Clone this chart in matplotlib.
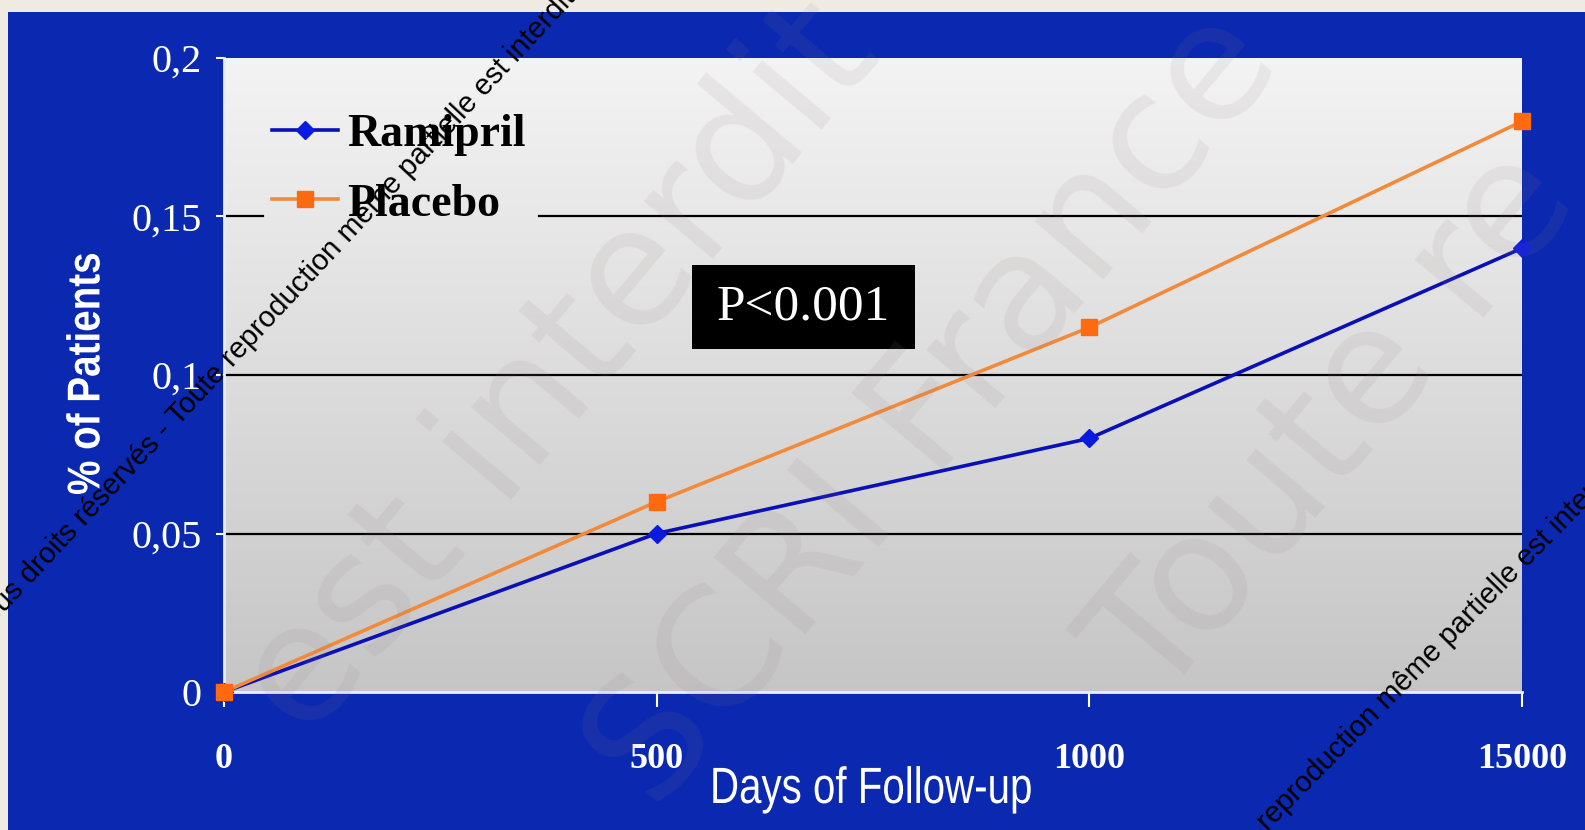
import numpy as np
import matplotlib
matplotlib.use("Agg")
import matplotlib.pyplot as plt
from matplotlib.patches import Rectangle, PathPatch
from matplotlib.textpath import TextPath
from matplotlib.font_manager import FontProperties
from matplotlib.transforms import Affine2D, IdentityTransform

# Data
days = ["0", "500", "1000", "15000"]
ramipril = [0.0, 0.05, 0.08, 0.14]
placebo = [0.0, 0.06, 0.115, 0.18]
y_ticks = [0, 0.05, 0.1, 0.15, 0.2]
y_tick_labels = ["0", "0,05", "0,1", "0,15", "0,2"]

W, H = 1585, 830
fig = plt.figure(figsize=(W / 100, H / 100), dpi=100)
fig.patch.set_facecolor("#efebe3")

BLUE = "#0a29b0"
# blue slide panel
fig.add_artist(Rectangle((8 / W, 0), 1.0, 1 - 12 / H, transform=fig.transFigure,
                         facecolor=BLUE, edgecolor="none", zorder=0))


def condensed_text(s, cx, cy, size_px, sx, family, weight="normal", rotation=0,
                   baseline=False, color="white", zorder=5):
    """Draw a horizontally condensed text as a path, in pixel coordinates
    (origin top-left). (cx, cy) is the centre, or the baseline centre."""
    tp = TextPath((0, 0), s, size=size_px,
                  prop=FontProperties(family=family, weight=weight))
    bb = tp.get_extents()
    dy = 0 if baseline else -(bb.y0 + bb.y1) / 2
    tr = (Affine2D().translate(-(bb.x0 + bb.x1) / 2, dy).scale(sx, 1)
          .rotate_deg(rotation).translate(cx, H - cy))
    patch = PathPatch(tr.transform_path(tp), facecolor=color, edgecolor="none",
                      transform=IdentityTransform(), zorder=zorder)
    fig.add_artist(patch)


ax = fig.add_axes([224 / W, 1 - 692 / H, 1298 / W, 634 / H])
ax.set_facecolor("none")

# vertical gradient background of the plot area
grad = np.linspace(0, 1, 256).reshape(-1, 1)
top_c = np.array([0.955, 0.955, 0.955])
bot_c = np.array([0.775, 0.775, 0.775])
img = bot_c[None, None, :] * (1 - grad[..., None]) + top_c[None, None, :] * grad[..., None]
ax.imshow(img, extent=[0, 1, 0, 1], transform=ax.transAxes, origin="lower",
          aspect="auto", zorder=0)

x = np.arange(len(days))
ax.set_xlim(0, len(days) - 1)
ax.set_ylim(0, 0.2)

# gridlines (the top one is interrupted behind the legend)
for yv in y_ticks[1:-2]:
    ax.axhline(yv, color="black", lw=1.6, zorder=1)
ax.axhline(y_ticks[-2], xmin=0, xmax=0.030, color="black", lw=1.6, zorder=1)
ax.axhline(y_ticks[-2], xmin=0.243, xmax=1, color="black", lw=1.6, zorder=1)

ax.plot(x, ramipril, color="#0a0fb8", lw=2.6, marker="D", ms=9,
        mfc="#0a1ae0", mec="#0a1ae0", clip_on=False, zorder=4, label="Ramipril")
ax.plot(x, placebo, color="#f28a3a", lw=2.6, marker="s", ms=12,
        mfc="#ff6a10", mec="#ff6a10", clip_on=False, zorder=4, label="Placebo")

# axes styling
for s in ["top", "right"]:
    ax.spines[s].set_visible(False)
ax.spines["left"].set_color("#e8eeff")
ax.spines["bottom"].set_color("#e8eeff")
ax.spines["left"].set_linewidth(2)
ax.spines["bottom"].set_linewidth(2)

ax.set_yticks(y_ticks)
ax.set_yticklabels(y_tick_labels)
ax.set_xticks(x)
ax.set_xticklabels(days)
ax.tick_params(axis="y", colors="white", length=6, width=1.5, pad=10)
ax.tick_params(axis="x", colors="white", length=11, width=1.5, pad=26)
for t in ax.get_yticklabels():
    t.set_fontfamily("Liberation Serif")
    t.set_fontsize(29)
    t.set_color("white")
for t in ax.get_xticklabels():
    t.set_fontfamily("Liberation Serif")
    t.set_fontsize(26)
    t.set_fontweight("bold")
    t.set_color("white")

# axis titles (condensed sans)
condensed_text("% of Patients", 83, 374, 46, 0.84, "Liberation Sans", "bold",
               rotation=90)
condensed_text("Days of Follow-up", 872, 803, 51, 0.79, "Liberation Sans",
               baseline=True)

leg = ax.legend(loc="upper left", bbox_to_anchor=(0.028, 0.93), frameon=False,
                prop={"family": "Liberation Serif", "weight": "bold", "size": 33},
                handlelength=1.45, handletextpad=0.2, labelspacing=0.6,
                borderpad=0.25, borderaxespad=0)
leg.set_zorder(3)

# p-value box
ax.add_patch(Rectangle((0.4465 - 0.086, 0.607 - 0.066), 0.172, 0.1325,
                       transform=ax.transAxes, facecolor="black", edgecolor="none",
                       zorder=5))
ax.text(0.4465, 0.607, "P<0.001", transform=ax.transAxes, ha="center", va="center",
        color="white", fontsize=37, family="Liberation Serif", zorder=6)

# faint large watermark text
for txt, cx, cy in [("est interdit", 560, 370), ("SCRI France", 935, 410),
                    ("Toute re", 1335, 425)]:
    fig.text(cx / W, 1 - cy / H, txt, rotation=50, ha="center", va="center",
             rotation_mode="anchor", color="#8f7c7c", alpha=0.11, fontsize=118,
             family="DejaVu Sans", zorder=10)

# small diagonal copyright lines
head = "© SCRI France - Tous droits réservés - Toute "
tail = "reproduction même partielle est interdite"
for (px, py, rot) in [(233, 368, 47), (1268, 832, 45.5)]:
    for s, ha in [(head, "right"), (tail, "left")]:
        fig.text(px / W, 1 - py / H, s, rotation=rot, ha=ha, va="baseline",
                 rotation_mode="anchor", color="black", fontsize=21,
                 family="Liberation Sans", zorder=11)

fig.savefig("out.png", dpi=100, facecolor=fig.get_facecolor())
